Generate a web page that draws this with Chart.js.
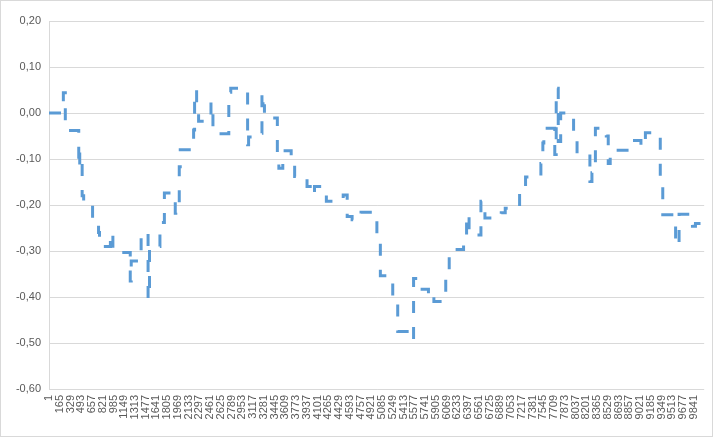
<!DOCTYPE html>
<html>
<head>
<meta charset="utf-8">
<title>chart</title>
<script src="https://cdn.jsdelivr.net/npm/chart.js@4.4.1/dist/chart.umd.min.js"></script>
<style>
  html, body { margin: 0; padding: 0; background: #fff; }
  canvas { display: block; }
</style>
</head>
<body>
<canvas id="stepChart" width="713" height="437"></canvas>
<script>
  // category labels shown on the x axis
  var tickLabels = [1, 165, 329, 493, 657, 821, 985, 1149, 1313, 1477, 1641, 1805, 1969, 2133, 2297,
      2461, 2625, 2789, 2953, 3117, 3281, 3445, 3609, 3773, 3937, 4101, 4265, 4429, 4593, 4757,
      4921, 5085, 5249, 5413, 5577, 5741, 5905, 6069, 6233, 6397, 6561, 6725, 6889, 7053, 7217,
      7381, 7545, 7709, 7873, 8037, 8201, 8365, 8529, 8693, 8857, 9021, 9185, 9349, 9513, 9677, 9841];
  var lastIndex = 10000;

  // row where each level starts, and the level held from there
  var stepStart = [1, 220, 250, 455, 470, 507, 530, 666, 757, 772, 938, 976, 1241, 1256, 1407,
      1513, 1535, 1694, 1762, 1928, 1936, 1989, 2004, 2208, 2223, 2254, 2284, 2473, 2503, 2533,
      2745, 2775, 3032, 3047, 3198, 3251, 3267, 3289, 3486, 3509, 3569, 3697, 3750, 3939, 4038,
      4053, 4234, 4491, 4552, 4627, 4718, 4763, 4960, 5005, 5058, 5247, 5323, 5512, 5565, 5633,
      5792, 5822, 5875, 6056, 6109, 6328, 6374, 6412, 6593, 6654, 6903, 6964, 7183, 7228, 7274,
      7508, 7538, 7553, 7720, 7742, 7773, 7810, 8007, 8060, 8256, 8287, 8340, 8506, 8536, 8566,
      8823, 8861, 9035, 9103, 9330, 9368, 9564, 9617, 9821, 9867];
  var stepValue = [0.000, 0.044, -0.038, -0.120, -0.086, -0.180, -0.200, -0.232, -0.260, -0.290,
      -0.260, -0.303, -0.365, -0.322, -0.260, -0.405, -0.290, -0.238, -0.174, -0.218,
      -0.195, -0.117, -0.080, -0.037, 0.050, 0.003, -0.018, 0.023, -0.030, -0.045,
      0.045, 0.054, -0.069, -0.052, -0.044, 0.045, 0.016, -0.011, -0.087, -0.120,
      -0.082, -0.107, -0.138, -0.160, -0.178, -0.160, -0.192, -0.178, -0.225, -0.232,
      -0.220, -0.216, -0.232, -0.280, -0.354, -0.415, -0.475, -0.493, -0.360, -0.383,
      -0.400, -0.395, -0.410, -0.362, -0.297, -0.275, -0.220, -0.265, -0.192, -0.228,
      -0.217, -0.207, -0.170, -0.160, -0.139, -0.110, -0.065, -0.033, -0.090, 0.054,
      -0.062, 0.000, -0.040, -0.088, -0.149, -0.130, -0.033, -0.050, -0.110, -0.081,
      -0.070, -0.060, -0.073, -0.043, -0.160, -0.221, -0.288, -0.220, -0.246, -0.240];

  function buildPoints() {
      var pts = [];
      for (var i = 0; i < stepStart.length; i++) {
          pts.push({ x: stepStart[i], y: stepValue[i] });
      }
      pts.push({ x: lastIndex, y: stepValue[stepValue.length - 1] });
      return pts;
  }

  function formatValue(v) {
      return (Math.round(v * 100) / 100).toFixed(2).replace('.', ',');
  }

  var frame = {
      id: 'frame',
      afterDraw: function(chart) {
          var c = chart.ctx;
          c.save();
          c.strokeStyle = '#d9d9d9';
          c.lineWidth = 1;
          c.strokeRect(0.5, 0.5, chart.width - 1, chart.height - 1);
          c.restore();
      }
  };

  var labelFont = { family: '"Liberation Sans", Arial, sans-serif', size: 11 };

  var stepChart = new Chart(document.getElementById('stepChart').getContext('2d'), {
      type: 'line',
      data: {
          datasets: [{
              data: buildPoints(),
              stepped: 'before',
              borderColor: '#5b9bd5',
              borderWidth: 3,
              borderDash: [12, 14],
              borderCapStyle: 'butt',
              pointRadius: 0,
              fill: false
          }]
      },
      options: {
          responsive: false,
          animation: false,
          devicePixelRatio: 1,
          layout: { padding: { top: 21, right: 3, left: 0, bottom: 0 } },
          plugins: { legend: { display: false }, tooltip: { enabled: false } },
          scales: {
              x: {
                  type: 'linear',
                  min: 1,
                  max: lastIndex,
                  grid: { display: false, drawTicks: false },
                  border: { display: false },
                  afterBuildTicks: function(scale) {
                      scale.ticks = tickLabels.map(function(v) { return { value: v }; });
                  },
                  afterFit: function(scale) { scale.height = 48; },
                  ticks: {
                      autoSkip: false,
                      minRotation: 90,
                      maxRotation: 90,
                      padding: 6,
                      color: '#595959',
                      font: labelFont,
                      callback: function(v) { return String(v); }
                  }
              },
              y: {
                  min: -0.6,
                  max: 0.2,
                  grid: { color: '#d9d9d9', drawTicks: false },
                  border: { display: true, color: '#d9d9d9' },
                  afterFit: function(scale) { scale.width = 49; },
                  ticks: {
                      stepSize: 0.1,
                      padding: 8,
                      color: '#595959',
                      font: labelFont,
                      callback: function(v) { return formatValue(v); }
                  }
              }
          }
      },
      plugins: [frame]
  });
</script>
</body>
</html>
